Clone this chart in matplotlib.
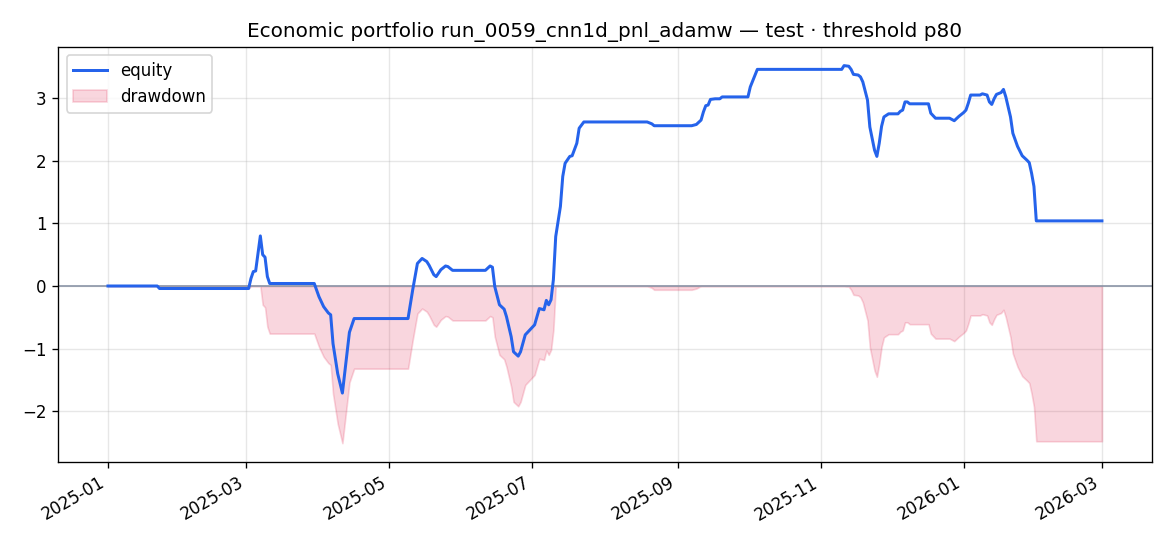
import numpy as np
import pandas as pd
import matplotlib
matplotlib.use("Agg")
import matplotlib.pyplot as plt
import matplotlib.dates as mdates

dates = [
    "2025-01-01", "2025-01-22", "2025-01-23", "2025-03-02", "2025-03-03", "2025-03-04",
    "2025-03-05", "2025-03-07", "2025-03-08", "2025-03-09", "2025-03-10", "2025-03-11",
    "2025-03-30", "2025-04-01", "2025-04-03", "2025-04-05", "2025-04-06", "2025-04-07",
    "2025-04-09", "2025-04-11", "2025-04-14", "2025-04-16", "2025-05-09", "2025-05-11",
    "2025-05-13", "2025-05-15", "2025-05-17", "2025-05-18", "2025-05-20", "2025-05-21",
    "2025-05-23", "2025-05-25", "2025-05-26", "2025-05-28", "2025-06-11", "2025-06-13",
    "2025-06-14", "2025-06-15", "2025-06-17", "2025-06-19", "2025-06-20", "2025-06-22",
    "2025-06-23", "2025-06-25", "2025-06-26", "2025-06-28", "2025-06-30", "2025-07-02",
    "2025-07-04", "2025-07-06", "2025-07-07", "2025-07-08", "2025-07-09", "2025-07-10",
    "2025-07-11", "2025-07-13", "2025-07-14", "2025-07-15", "2025-07-17", "2025-07-18",
    "2025-07-19", "2025-07-20", "2025-07-21", "2025-07-23", "2025-08-19", "2025-08-21",
    "2025-08-22", "2025-09-07", "2025-09-09", "2025-09-11", "2025-09-12", "2025-09-13",
    "2025-09-14", "2025-09-15", "2025-09-17", "2025-09-19", "2025-09-20", "2025-10-01",
    "2025-10-02", "2025-10-05", "2025-11-10", "2025-11-11", "2025-11-13", "2025-11-14",
    "2025-11-15", "2025-11-17", "2025-11-18", "2025-11-19", "2025-11-21", "2025-11-22",
    "2025-11-24", "2025-11-25", "2025-11-26", "2025-11-27", "2025-11-28", "2025-11-30",
    "2025-12-04", "2025-12-05", "2025-12-06", "2025-12-07", "2025-12-08", "2025-12-09",
    "2025-12-17", "2025-12-18", "2025-12-20", "2025-12-26", "2025-12-28", "2025-12-30",
    "2026-01-01", "2026-01-02", "2026-01-03", "2026-01-04", "2026-01-08", "2026-01-09",
    "2026-01-11", "2026-01-12", "2026-01-13", "2026-01-14", "2026-01-15", "2026-01-17",
    "2026-01-18", "2026-01-19", "2026-01-21", "2026-01-22", "2026-01-24", "2026-01-26",
    "2026-01-28", "2026-01-29", "2026-01-30", "2026-01-31", "2026-02-01", "2026-03-01",
]
equity = [
    0.00, 0.00, -0.04, -0.04, 0.12, 0.23,
    0.24, 0.80, 0.50, 0.46, 0.15, 0.04,
    0.04, -0.17, -0.33, -0.43, -0.46, -0.92,
    -1.40, -1.71, -0.74, -0.52, -0.52, -0.06,
    0.36, 0.44, 0.39, 0.33, 0.18, 0.15,
    0.26, 0.32, 0.31, 0.25, 0.25, 0.32,
    0.30, -0.01, -0.30, -0.37, -0.49, -0.81,
    -1.05, -1.12, -1.05, -0.78, -0.70, -0.62,
    -0.36, -0.38, -0.23, -0.30, -0.22, 0.10,
    0.79, 1.27, 1.75, 1.96, 2.07, 2.08,
    2.18, 2.28, 2.52, 2.62, 2.62, 2.59,
    2.56, 2.56, 2.58, 2.65, 2.78, 2.88,
    2.89, 2.98, 2.99, 2.99, 3.02, 3.02,
    3.18, 3.46, 3.46, 3.52, 3.51, 3.46,
    3.38, 3.37, 3.34, 3.26, 2.97, 2.54,
    2.17, 2.07, 2.28, 2.55, 2.70, 2.75,
    2.75, 2.79, 2.81, 2.94, 2.94, 2.91,
    2.91, 2.76, 2.68, 2.68, 2.64, 2.71,
    2.77, 2.81, 2.92, 3.05, 3.05, 3.07,
    3.05, 2.94, 2.90, 2.99, 3.06, 3.09,
    3.14, 3.02, 2.70, 2.44, 2.23, 2.08,
    2.01, 1.97, 1.80, 1.59, 1.04, 1.04,
]

title = "Economic portfolio run_0059_cnn1d_pnl_adamw \u2014 test \u00b7 threshold p80"

x = pd.to_datetime(dates)
eq = np.array(equity)
drawdown = eq - np.maximum.accumulate(eq)

fig = plt.figure(figsize=(9.75, 4.55), dpi=120)
ax = fig.add_axes([0.0498, 0.1538, 0.9345, 0.7606])

ax.plot(x, eq, color="#2563eb", lw=1.8, label="equity", zorder=3)
ax.fill_between(x, drawdown, 0, color="#e11d48", alpha=0.18, label="drawdown", zorder=2)
ax.axhline(0, color="#8a94a6", lw=1.0, zorder=2.5)

ax.grid(True, alpha=0.3)
ax.xaxis.set_major_locator(mdates.MonthLocator(bymonth=[1, 3, 5, 7, 9, 11]))
ax.xaxis.set_major_formatter(mdates.DateFormatter("%Y-%m"))
for lab in ax.get_xticklabels():
    lab.set_rotation(30)
    lab.set_ha("right")
ax.set_title(title, fontsize=12)
ax.legend(loc="upper left")

fig.savefig("out.png", dpi=120)
